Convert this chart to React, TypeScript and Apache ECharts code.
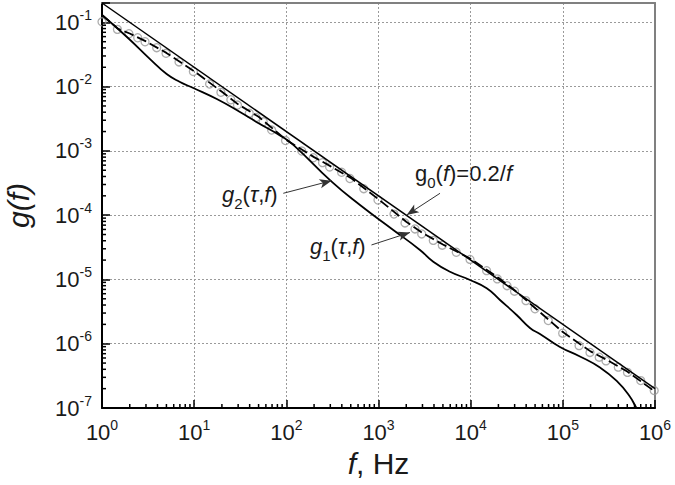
import React, { useEffect, useRef } from 'react';
import * as echarts from 'echarts';

// Axis ranges
const xMin = 1;
const xMax = 1e6;
const yMin = 1e-7;
const yMax = 0.2;

// Decades / minor tick multipliers
const xDecades = [1, 10, 100, 1e3, 1e4, 1e5];
const yDecades = [1e-7, 1e-6, 1e-5, 1e-4, 1e-3, 1e-2];
const minorMult = [2, 3, 4, 5, 6, 7, 8, 9];

// g0(f) = 0.2/f
const g0F = [1, 1e6];
const g0G = [0.2, 2e-7];

// dashed curve
const dashF = [1, 1.5, 2, 3, 5, 10, 20, 30, 50, 100, 200, 300, 500, 1000, 2000, 3000, 5000, 1e4, 2e4, 3e4, 5e4, 1e5, 2e5, 3e5, 5e5, 1e6];
const dashG = [0.13, 0.079, 0.067, 0.0505, 0.0335, 0.0174, 0.0083, 0.0053, 0.0034, 0.00148, 0.0008, 0.00058, 0.00038, 0.000177, 7.9e-5, 5.3e-5, 3.5e-5, 2.1e-5, 1.06e-5, 6.8e-6, 3.6e-6, 1.52e-6, 7.6e-7, 5.6e-7, 3.7e-7, 1.8e-7];

// g1(tau,f) lower solid curve
const g1F = [1, 1.853, 3.32, 5.03, 7.02, 9.79, 17.6, 31.4, 51.8, 85.3, 119, 310, 630, 1446, 2818, 3929, 5970, 9840, 14930, 20800, 31560, 44000, 56500, 93100, 153500, 253000, 384000, 535000, 632000, 778000];
const g1G = [0.13, 0.0597, 0.0268, 0.0157, 0.0118, 0.00951, 0.00641, 0.00403, 0.00262, 0.00174, 0.00124, 0.000332, 0.000144, 5.89e-5, 2.88e-5, 1.89e-5, 1.32e-5, 9.8e-6, 7.3e-6, 4.79e-6, 2.8e-6, 1.76e-6, 1.42e-6, 8.9e-7, 6.34e-7, 4.27e-7, 2.64e-7, 1.5e-7, 9.93e-8, 6.56e-8];

// open circles
const circF = [1, 1.47, 1.96, 2.44, 2.93, 3.92, 4.95, 6.85, 9.8, 14.7, 19.5, 25, 29.5, 39.6, 46.9, 56.2, 69.3, 98, 147, 196, 247, 295, 398, 490, 692, 987, 1472, 1938, 2487, 2943, 3930, 4920, 6980, 9840, 14900, 19450, 24800, 29900, 39800, 49900, 69500, 99600, 150000, 197000, 248000, 294000, 400000, 503000, 700000, 980000];
const circG = [0.102, 0.0778, 0.0665, 0.0576, 0.0499, 0.0403, 0.033, 0.0242, 0.0172, 0.01097, 0.00815, 0.00625, 0.00517, 0.00385, 0.00331, 0.00284, 0.00211, 0.00145, 0.000996, 0.000783, 0.000656, 0.000562, 0.000465, 0.000372, 0.000258, 0.000172, 0.000104, 7.57e-5, 6.1e-5, 5.1e-5, 4.05e-5, 3.41e-5, 2.65e-5, 2.05e-5, 1.37e-5, 1.02e-5, 8.0e-6, 6.56e-6, 4.68e-6, 3.5e-6, 2.29e-6, 1.46e-6, 9.33e-7, 7.32e-7, 6.17e-7, 5.4e-7, 4.32e-7, 3.58e-7, 2.67e-7, 1.87e-7];

// annotation arrows [startF, startG, endF, endG]
const arrowG2 = [92.7, 2.19e-4, 310, 3.44e-4];
const arrowG1 = [839, 3.44e-5, 2196, 5.38e-5];
const arrowG0 = [4650, 2.19e-4, 2023, 1.007e-4];

// annotation labels
const labelG2 = '{i|g}{sub|2}{n|(}{i|τ}{n|,}{i|f}{n|)}';
const labelG1 = '{i|g}{sub|1}{n|(}{i|τ}{n|,}{i|f}{n|)}';
const labelG0 = '{n|g}{sub|0}{n|(}{i|f}{n|)=0.2/}{i|f}';

const FONT = '"Liberation Sans", Arial, Helvetica, sans-serif';

const zip = (a: number[], b: number[]) => a.map((v, i) => [v, b[i]]);
const minorOf = (decs: number[]) => decs.flatMap((d) => minorMult.map((m) => m * d));

const tickFmt = (v: number) => {
  const l = Math.log10(v);
  const e = Math.round(l);
  if (Math.abs(l - e) > 1e-6) return '';
  return `{b|10}{s|${e}}`;
};
const tickRich = {
  b: { fontSize: 22, fontFamily: FONT, color: '#1a1a1a' },
  s: { fontSize: 14, fontFamily: FONT, color: '#1a1a1a', padding: [0, 0, 15, 0] },
};

const annRich = {
  n: { fontSize: 22, fontFamily: FONT, fill: '#1a1a1a' },
  i: { fontSize: 22, fontFamily: FONT, fontStyle: 'italic', fill: '#1a1a1a' },
  sub: { fontSize: 15, fontFamily: FONT, fill: '#1a1a1a', padding: [18, 0, 0, 0] },
};

const arrowLine = (a: number[]) => [{ coord: [a[0], a[1]] }, { coord: [a[2], a[3]] }];

export default function App() {
  const ref = useRef<HTMLDivElement>(null);
  useEffect(() => {
    document.body.style.margin = '0';
    if (!ref.current) return;
    const chart = echarts.init(ref.current, null, { renderer: 'svg' });
    const minorX = minorOf(xDecades);
    const minorY = minorOf(yDecades);
    const gridLine = { show: true, lineStyle: { color: '#9a9a9a', type: [2, 2], width: 1 } };
    chart.setOption({
      animation: false,
      backgroundColor: '#ffffff',
      grid: { left: 102, right: 20, top: 3, bottom: 77, outerBoundsMode: 'none' },
      xAxis: [
        {
          type: 'log', logBase: 10, min: xMin, max: xMax, interval: 1, position: 'bottom',
          axisLine: { show: true, onZero: false, lineStyle: { color: '#000', width: 2 } },
          axisTick: { show: true, inside: true, length: 8, lineStyle: { color: '#000', width: 1.5 } },
          axisLabel: { formatter: tickFmt, rich: tickRich, margin: 10 },
          splitLine: gridLine,
          name: '{i|f}{n|, Hz}', nameLocation: 'middle', nameGap: 40,
          nameTextStyle: {
            rich: {
              i: { fontSize: 30, fontFamily: FONT, fontStyle: 'italic', color: '#1a1a1a' },
              n: { fontSize: 30, fontFamily: FONT, color: '#1a1a1a' },
            },
          },
        },
        {
          type: 'value', min: 0, max: 1, position: 'top',
          axisLine: { show: true, onZero: false, lineStyle: { color: '#808080', width: 2 } },
          axisTick: { show: false }, axisLabel: { show: false }, splitLine: { show: false },
        },
      ],
      yAxis: [
        {
          type: 'log', logBase: 10, min: yMin, max: yMax, interval: 1, position: 'left',
          axisLine: { show: true, onZero: false, lineStyle: { color: '#000', width: 2 } },
          axisTick: { show: true, inside: true, length: 8, lineStyle: { color: '#000', width: 1.5 } },
          axisLabel: { formatter: tickFmt, rich: tickRich, margin: 10 },
          splitLine: gridLine,
          name: 'g(f)', nameLocation: 'middle', nameGap: 69,
          nameTextStyle: { fontSize: 30, fontFamily: FONT, fontStyle: 'italic', color: '#1a1a1a' },
        },
        {
          type: 'value', min: 0, max: 1, position: 'right',
          axisLine: { show: true, onZero: false, lineStyle: { color: '#808080', width: 2 } },
          axisTick: { show: false }, axisLabel: { show: false }, splitLine: { show: false },
        },
      ],
      series: [
        {
          name: 'circles', type: 'scatter', xAxisIndex: 0, yAxisIndex: 0,
          data: zip(circF, circG), symbol: 'circle', symbolSize: 8, z: 2,
          itemStyle: { color: 'rgba(255,255,255,0)', borderColor: '#999999', borderWidth: 1.3 },
        },
        {
          name: 'dashed', type: 'line', xAxisIndex: 0, yAxisIndex: 0,
          data: zip(dashF, dashG), showSymbol: false, symbol: 'none', z: 3,
          lineStyle: { color: '#000', width: 1.8, type: [10, 4] },
        },
        {
          name: 'g0', type: 'line', xAxisIndex: 0, yAxisIndex: 0,
          data: zip(g0F, g0G), showSymbol: false, symbol: 'none', z: 3,
          lineStyle: { color: '#000', width: 1.5 },
        },
        {
          name: 'g1', type: 'line', xAxisIndex: 0, yAxisIndex: 0, smooth: 0.5,
          data: zip(g1F, g1G), showSymbol: false, symbol: 'none', z: 3,
          lineStyle: { color: '#000', width: 1.8 },
          markLine: {
            silent: true, animation: false,
            symbol: ['none', 'arrow'], symbolSize: [7, 12],
            label: { show: false },
            lineStyle: { color: '#333', width: 1, type: 'solid' },
            emphasis: { disabled: true },
            data: [arrowLine(arrowG2), arrowLine(arrowG1), arrowLine(arrowG0)],
          },
        },
        {
          name: 'xMinorTicks', type: 'custom', xAxisIndex: 0, yAxisIndex: 0, silent: true, z: 6,
          data: minorX.map((v) => [v, yMin]),
          renderItem: (_p: any, api: any) => {
            const p = api.coord([api.value(0), api.value(1)]);
            return { type: 'line', shape: { x1: p[0], y1: p[1], x2: p[0], y2: p[1] - 4 }, style: { stroke: '#000', lineWidth: 1.5 } };
          },
        },
        {
          name: 'yMinorTicks', type: 'custom', xAxisIndex: 0, yAxisIndex: 0, silent: true, z: 6,
          data: minorY.map((v) => [xMin, v]),
          renderItem: (_p: any, api: any) => {
            const p = api.coord([api.value(0), api.value(1)]);
            return { type: 'line', shape: { x1: p[0], y1: p[1], x2: p[0] + 4, y2: p[1] }, style: { stroke: '#000', lineWidth: 1.5 } };
          },
        },
      ],
      graphic: [
        { type: 'text', x: 222, y: 194, style: { text: labelG2, rich: annRich, verticalAlign: 'middle', align: 'left', fill: '#1a1a1a' } },
        { type: 'text', x: 310, y: 246, style: { text: labelG1, rich: annRich, verticalAlign: 'middle', align: 'left', fill: '#1a1a1a' } },
        { type: 'text', x: 415, y: 173, style: { text: labelG0, rich: annRich, verticalAlign: 'middle', align: 'left', fill: '#1a1a1a' } },
      ],
    });
    return () => chart.dispose();
  }, []);
  return <div ref={ref} style={{ width: 675, height: 485 }} />;
}
